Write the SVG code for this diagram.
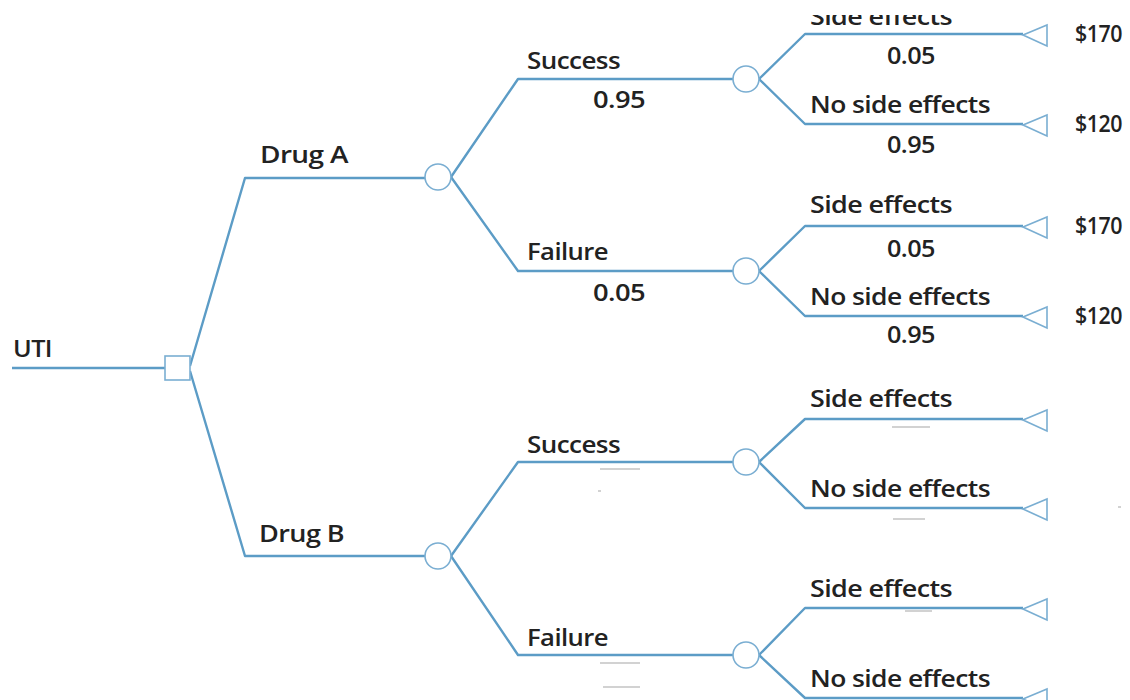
<svg xmlns="http://www.w3.org/2000/svg" width="1130" height="700" viewBox="0 0 1130 700">
<defs>
<style>
.ln{fill:none;stroke:#5c9cc6;stroke-width:2.4;stroke-linejoin:round}
.nd{fill:#fff;stroke:#7aaed2;stroke-width:1.6}
.t{font-family:"Open Sans","Liberation Sans",Arial,sans-serif;font-size:23px;font-weight:600;fill:#222;letter-spacing:-0.5px}
.art{stroke:#c4c4c4;stroke-width:1.5}
</style>
<clipPath id="topclip"><rect x="0" y="15" width="1130" height="700"/></clipPath>
</defs>
<rect width="1130" height="700" fill="#fff"/>
<g id="connectors">
<path class="ln" d="M12 368 H165"/>
<path class="ln" d="M190 366 L245 178 H425"/>
<path class="ln" d="M190 371 L245 556 H425"/>
<path class="ln" d="M451 177 L518 79 H733"/>
<path class="ln" d="M451 177 L518 271 H733"/>
<path class="ln" d="M451 556 L518 462 H733"/>
<path class="ln" d="M451 556 L518 655 H733"/>
<path class="ln" d="M759 79 L805 34 H1023"/>
<path class="ln" d="M759 79 L805 124 H1023"/>
<path class="ln" d="M759 271 L805 226 H1023"/>
<path class="ln" d="M759 271 L805 316 H1023"/>
<path class="ln" d="M759 462 L805 419 H1023"/>
<path class="ln" d="M759 462 L805 508 H1023"/>
<path class="ln" d="M759 655 L805 608 H1023"/>
<path class="ln" d="M759 655 L805 698 H1023"/>
</g>
<g id="decision"><rect class="nd" x="165" y="356" width="25" height="24"/><text class="t" x="13" y="357" textLength="39" lengthAdjust="spacingAndGlyphs">UTI</text></g>
<g id="drugA"><circle class="nd" cx="438" cy="177" r="13"/><text class="t" x="260" y="163" textLength="88" lengthAdjust="spacingAndGlyphs">Drug A</text></g>
<g id="drugB"><circle class="nd" cx="438" cy="556" r="13"/><text class="t" x="259" y="542" textLength="85" lengthAdjust="spacingAndGlyphs">Drug B</text></g>
<g id="A-success"><circle class="nd" cx="746" cy="79" r="13"/><text class="t" x="527" y="69" textLength="93" lengthAdjust="spacingAndGlyphs">Success</text><text class="t" x="593" y="108" textLength="52" lengthAdjust="spacingAndGlyphs">0.95</text></g>
<g id="A-failure"><circle class="nd" cx="746" cy="271" r="13"/><text class="t" x="527" y="260" textLength="81" lengthAdjust="spacingAndGlyphs">Failure</text><text class="t" x="593" y="301" textLength="52" lengthAdjust="spacingAndGlyphs">0.05</text></g>
<g id="B-success"><circle class="nd" cx="746" cy="462" r="13"/><text class="t" x="527" y="453" textLength="93" lengthAdjust="spacingAndGlyphs">Success</text></g>
<g id="B-failure"><circle class="nd" cx="746" cy="655" r="13"/><text class="t" x="527" y="646" textLength="81" lengthAdjust="spacingAndGlyphs">Failure</text></g>
<g id="A-s-side"><polygon class="nd" points="1023,35 1047,25 1047,46"/><text class="t" x="810" y="25" textLength="142" lengthAdjust="spacingAndGlyphs" clip-path="url(#topclip)">Side effects</text><text class="t" x="887" y="64" textLength="48" lengthAdjust="spacingAndGlyphs">0.05</text><text class="t" x="1075" y="42" textLength="47" lengthAdjust="spacingAndGlyphs">$170</text></g>
<g id="A-s-noside"><polygon class="nd" points="1023,125 1047,115 1047,136"/><text class="t" x="810" y="113" textLength="180" lengthAdjust="spacingAndGlyphs">No side effects</text><text class="t" x="887" y="153" textLength="48" lengthAdjust="spacingAndGlyphs">0.95</text><text class="t" x="1075" y="132" textLength="47" lengthAdjust="spacingAndGlyphs">$120</text></g>
<g id="A-f-side"><polygon class="nd" points="1023,227 1047,217 1047,238"/><text class="t" x="810" y="213" textLength="142" lengthAdjust="spacingAndGlyphs">Side effects</text><text class="t" x="887" y="257" textLength="48" lengthAdjust="spacingAndGlyphs">0.05</text><text class="t" x="1075" y="234" textLength="47" lengthAdjust="spacingAndGlyphs">$170</text></g>
<g id="A-f-noside"><polygon class="nd" points="1023,317 1047,307 1047,328"/><text class="t" x="810" y="305" textLength="180" lengthAdjust="spacingAndGlyphs">No side effects</text><text class="t" x="887" y="343" textLength="48" lengthAdjust="spacingAndGlyphs">0.95</text><text class="t" x="1075" y="324" textLength="47" lengthAdjust="spacingAndGlyphs">$120</text></g>
<g id="B-s-side"><polygon class="nd" points="1023,420 1047,410 1047,431"/><text class="t" x="810" y="407" textLength="142" lengthAdjust="spacingAndGlyphs">Side effects</text></g>
<g id="B-s-noside"><polygon class="nd" points="1023,509 1047,499 1047,520"/><text class="t" x="810" y="497" textLength="180" lengthAdjust="spacingAndGlyphs">No side effects</text></g>
<g id="B-f-side"><polygon class="nd" points="1023,609 1047,599 1047,620"/><text class="t" x="810" y="597" textLength="142" lengthAdjust="spacingAndGlyphs">Side effects</text></g>
<g id="B-f-noside"><polygon class="nd" points="1023,699 1047,689 1047,710"/><text class="t" x="810" y="687" textLength="180" lengthAdjust="spacingAndGlyphs">No side effects</text></g>
<g id="residue">
<path class="art" d="M600 469 H640 M598 491 H601 M600 663 H640 M603 687 H640 M892 427 H930 M893 519 H925 M905 611 H932 M1118 507 H1121"/>
</g>
</svg>
